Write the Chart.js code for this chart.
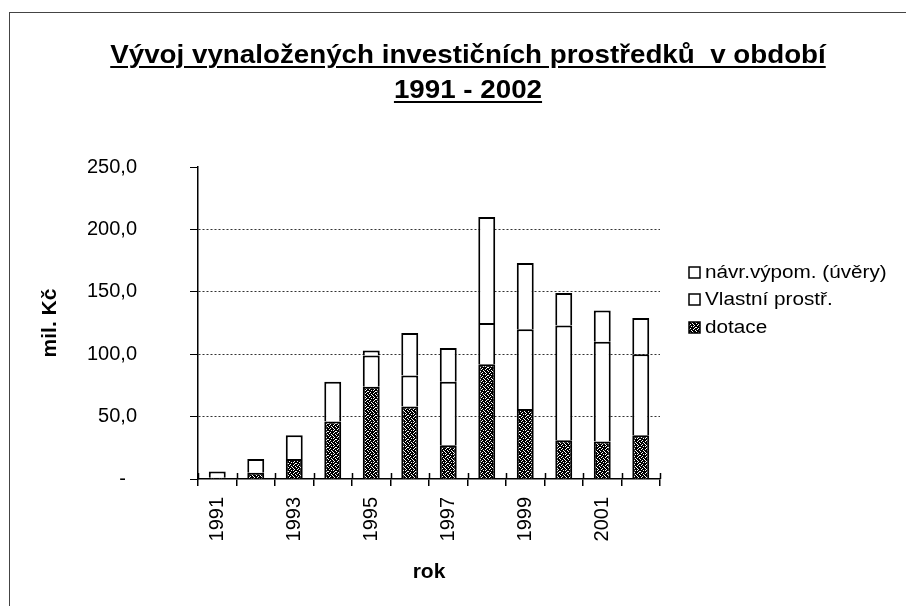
<!DOCTYPE html>
<html>
<head>
<meta charset="utf-8">
<script src="https://cdn.jsdelivr.net/npm/chart.js@4"></script>
<style>
  body { margin: 0; background: #fff; }
  #wrap { position: relative; width: 906px; height: 606px; overflow: hidden; }
  #frame { position: absolute; left: 9px; top: 12px; width: 920px; height: 620px;
           border-top: 1px solid #444; border-left: 1px solid #444; }
  #title { position: absolute; left: 15px; top: 37px; width: 906px; text-align: center;
           font: bold 25px "Liberation Sans", Arial, sans-serif; line-height: 35px; color: #000;
           text-decoration: underline; text-decoration-thickness: 2px; text-underline-offset: 3px;
           transform: scaleX(1.11); transform-origin: 453px 0; }
  canvas { position: absolute; left: 0; top: 0; }
</style>
</head>
<body>
<div id="wrap">
  <div id="frame"></div>
  <canvas id="myChart" width="906" height="606"></canvas>
  <div id="title">Vývoj vynaložených investičních prostředků&nbsp; v období<br>1991 - 2002</div>
</div>
<script>
// data (mil. Kč)
const years = ['1991', '1992', '1993', '1994', '1995', '1996', '1997', '1998', '1999', '2000', '2001', '2002'];
const dotace = [1, 5, 16, 46, 74, 58, 27, 92, 56, 31, 30, 35];
const vlastni = [5, 11, 19, 32, 25, 25, 51, 33, 64, 92, 80, 65];
const uvery = [0, 0, 0, 0, 4, 34, 27, 85, 53, 26, 25, 29];
const seriesLabels = ['dotace', 'Vlastní prostř.', 'návr.výpom. (úvěry)'];
const yTicks = [0, 50, 100, 150, 200, 250];
const yTickLabels = ['-  ', '50,0', '100,0', '150,0', '200,0', '250,0'];

const FONT = '"Liberation Sans", Arial, sans-serif';
Chart.defaults.font.family = FONT;
Chart.defaults.color = '#000';

// speckled fill for "dotace"
const speckle = [
    '11011101',
    '10111011',
    '11101110',
    '01110111',
    '11011011',
    '10111101',
    '11101011',
    '01111110'
];
const patCanvas = document.createElement('canvas');
patCanvas.width = 8;
patCanvas.height = 8;
const pctx = patCanvas.getContext('2d');
pctx.fillStyle = '#fff';
pctx.fillRect(0, 0, 8, 8);
pctx.fillStyle = '#000';
speckle.forEach((row, y) => {
    for (let x = 0; x < 8; x++) {
        if (row[x] === '1') pctx.fillRect(x, y, 1, 1);
    }
});
const dotPattern = pctx.createPattern(patCanvas, 'repeat');

// crossing tick marks on the category axis
const crossTicks = {
    id: 'crossTicks',
    afterDraw(chart) {
        const xs = chart.scales.x;
        const ctx = chart.ctx;
        const n = years.length;
        ctx.save();
        ctx.strokeStyle = '#000';
        ctx.lineWidth = 1.5;
        for (let i = 0; i <= n; i++) {
            const px = Math.round(xs.left + i * xs.width / n) + 0.5;
            ctx.beginPath();
            ctx.moveTo(px, xs.top - 6);
            ctx.lineTo(px, xs.top);
            ctx.stroke();
        }
        ctx.restore();
    }
};

// legend on the right, top entry first
const sideLegend = {
    id: 'sideLegend',
    afterDraw(chart) {
        const ctx = chart.ctx;
        const rows = [272, 299, 327];
        const fills = ['#fff', '#fff', dotPattern];
        const names = [seriesLabels[2], seriesLabels[1], seriesLabels[0]];
        ctx.save();
        ctx.font = '18px ' + FONT;
        ctx.textBaseline = 'middle';
        names.forEach((name, i) => {
            ctx.fillStyle = fills[i];
            ctx.fillRect(689, rows[i] - 5, 11, 11);
            ctx.strokeStyle = '#000';
            ctx.lineWidth = 1.5;
            ctx.strokeRect(689, rows[i] - 5, 11, 11);
            ctx.fillStyle = '#000';
            ctx.save();
            ctx.translate(705, rows[i] + 1);
            ctx.scale(1.15, 1);
            ctx.fillText(name, 0, 0);
            ctx.restore();
        });
        ctx.restore();
    }
};

const chart = document.getElementById('myChart');

new Chart(chart, {
    type: 'bar',
    data: {
        labels: years,
        datasets: [{
            label: seriesLabels[0],
            data: dotace,
            backgroundColor: dotPattern,
            borderColor: '#000',
            borderWidth: 2
        }, {
            label: seriesLabels[1],
            data: vlastni,
            backgroundColor: '#fff',
            borderColor: '#000',
            borderWidth: 2
        }, {
            label: seriesLabels[2],
            data: uvery,
            backgroundColor: '#fff',
            borderColor: '#000',
            borderWidth: 2
        }]
    },
    options: {
        responsive: false,
        animation: false,
        barPercentage: 0.44,
        categoryPercentage: 1,
        layout: {
            padding: { left: 29, right: 246, top: 167, bottom: 21 }
        },
        plugins: {
            legend: { display: false },
            tooltip: { enabled: false }
        },
        scales: {
            x: {
                stacked: true,
                grid: {
                    drawOnChartArea: false,
                    offset: true,
                    color: '#000',
                    tickLength: 7,
                    lineWidth: 1.5
                },
                border: { color: '#000', width: 1.5 },
                ticks: {
                    autoSkip: false,
                    maxRotation: 90,
                    minRotation: 90,
                    padding: 11,
                    font: { size: 20 },
                    callback: (v, i) => (i % 2 === 0 ? years[i] : '')
                },
                title: {
                    display: true,
                    text: 'rok',
                    font: { size: 21, weight: 'bold' },
                    padding: { top: 0, bottom: 0 }
                },
                afterFit(scale) { scale.height = 106; }
            },
            y: {
                stacked: true,
                min: 0,
                max: 250,
                afterBuildTicks(scale) { scale.ticks = yTicks.map(v => ({ value: v })); },
                grid: {
                    color: (c) => (c.tick && c.tick.value > 0 && c.tick.value < 250 ? '#333' : 'rgba(0,0,0,0)'),
                    tickColor: '#000',
                    tickLength: 8,
                    lineWidth: 1
                },
                border: { color: '#000', width: 1.5, dash: [2, 2] },
                ticks: {
                    padding: 53,
                    font: { size: 20 },
                    callback: (v) => yTickLabels[yTicks.indexOf(v)]
                },
                title: {
                    display: true,
                    text: 'mil. Kč',
                    font: { size: 21, weight: 'bold' },
                    padding: { top: 9, bottom: 0 }
                },
                afterFit(scale) { scale.width = 169; }
            }
        }
    },
    plugins: [crossTicks, sideLegend]
});
</script>
</body>
</html>
